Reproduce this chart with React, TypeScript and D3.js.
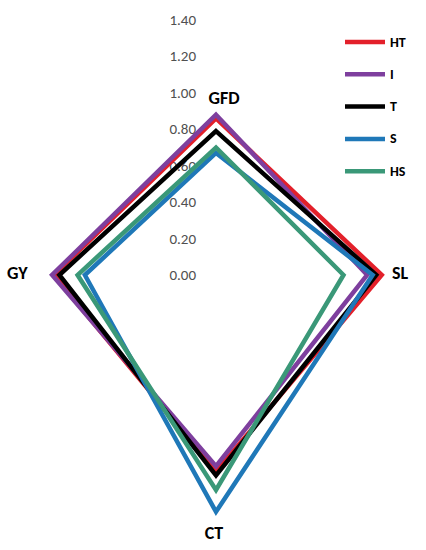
import * as d3 from 'd3'

const AXES = ['GFD', 'SL', 'CT', 'GY']
const TICKS = [0, 0.2, 0.4, 0.6, 0.8, 1.0, 1.2, 1.4]

const HT = [0.86, 0.91, 1.08, 0.89]
const I = [0.88, 0.83, 1.05, 0.9]
const T = [0.79, 0.88, 1.1, 0.86]
const S = [0.67, 0.86, 1.3, 0.72]
const HS = [0.7, 0.7, 1.18, 0.76]

const SERIES = [
  { name: 'HT', values: HT, color: '#E3202A' },
  { name: 'I', values: I, color: '#7E3F9E' },
  { name: 'T', values: T, color: '#000000' },
  { name: 'S', values: S, color: '#1F78B8' },
  { name: 'HS', values: HS, color: '#3A9878' }
]

export default function App() {
  const width = 426
  const height = 550
  const cx = 216
  const cy = 275

  const r = d3.scaleLinear().domain([0, 1.4]).range([0, 255])
  const angle = d3.scalePoint<string>()
    .domain(AXES)
    .range([0, 2 * Math.PI * (AXES.length - 1) / AXES.length])

  const line = d3.lineRadial<number>()
    .angle((_, i) => angle(AXES[i]) as number)
    .radius(d => r(d))
    .curve(d3.curveLinearClosed)

  // axis label placement (Excel style, just outside the plot)
  const labelPos: Record<string, [number, number, string]> = {
    GFD: [224, 98, 'middle'],
    SL: [392, 273, 'start'],
    CT: [214, 533, 'middle'],
    GY: [7, 273, 'start']
  }

  const font = 'Calibri, Carlito, "Liberation Sans", Arial, sans-serif'

  return (
    <svg width={width} height={height} style={{ position: 'absolute', left: 0, top: 0, background: '#fff' }}>
      {/* value axis labels */}
      {TICKS.map(t => (
        <text
          key={t}
          x={196}
          y={cy - r(t)}
          textAnchor="end"
          dominantBaseline="central"
          fontSize={15}
          fontFamily={font}
          fill="#505050"
        >
          {t.toFixed(2)}
        </text>
      ))}

      {/* series */}
      <g transform={`translate(${cx},${cy})`}>
        {SERIES.map(s => (
          <path
            key={s.name}
            d={line(s.values) || ''}
            fill="none"
            stroke={s.color}
            strokeWidth={4.5}
            strokeLinejoin="miter"
          />
        ))}
      </g>

      {/* category labels */}
      {AXES.map(a => {
        const [x, y, anchor] = labelPos[a]
        return (
          <text
            key={a}
            x={x}
            y={y}
            textAnchor={anchor as any}
            dominantBaseline="central"
            fontSize={18}
            fontWeight="bold"
            fontFamily={font}
            fill="#000"
          >
            {a}
          </text>
        )
      })}

      {/* legend */}
      {SERIES.map((s, i) => {
        const y = 42 + i * 32.3
        return (
          <g key={s.name}>
            <line x1={345} x2={385} y1={y} y2={y} stroke={s.color} strokeWidth={4.5} />
            <text
              x={390}
              y={y}
              dominantBaseline="central"
              fontSize={14}
              fontWeight="bold"
              fontFamily={font}
              fill="#000"
            >
              {s.name}
            </text>
          </g>
        )
      })}
    </svg>
  )
}
